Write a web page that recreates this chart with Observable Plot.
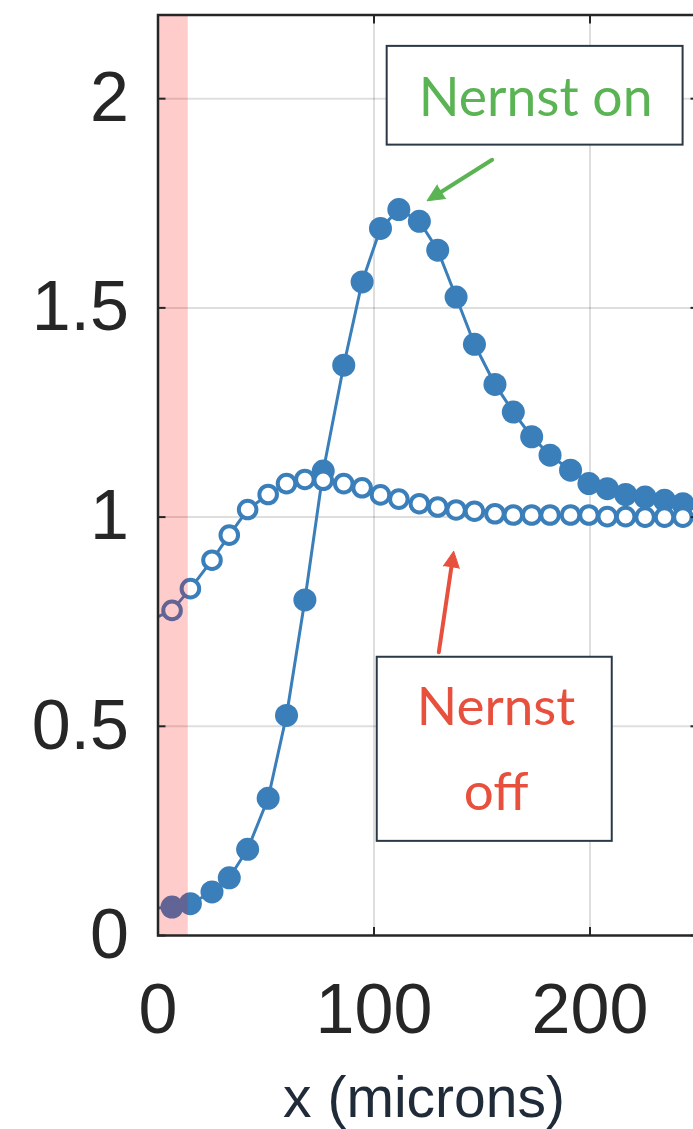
<!DOCTYPE html>
<html>
<head>
<meta charset="utf-8">
<script src="https://cdn.jsdelivr.net/npm/d3@7"></script>
<script src="https://cdn.jsdelivr.net/npm/@observablehq/plot@0.6"></script>
<style>
  html, body { margin: 0; padding: 0; background: #fff; overflow: hidden; }
  #chart svg { display: block; }
</style>
</head>
<body>
<div id="chart"></div>
<script>
// ---- data ----
const xMicrons  = [6.5, 15, 25, 33, 41.5, 51, 59.5, 68, 76.5, 86, 94.5, 103, 111.5, 121, 129.5, 138, 146.5, 156, 164.5, 173, 181.5, 191, 199.5, 208, 216.5, 225.5, 234.5, 243];
const nernstOn  = [0.068, 0.076, 0.104, 0.138, 0.206, 0.328, 0.526, 0.802, 1.11, 1.363, 1.562, 1.69, 1.735, 1.707, 1.638, 1.526, 1.413, 1.317, 1.251, 1.192, 1.148, 1.112, 1.080, 1.068, 1.054, 1.048, 1.040, 1.032];
const nernstOff = [0.777, 0.829, 0.897, 0.957, 1.018, 1.054, 1.080, 1.090, 1.088, 1.080, 1.070, 1.053, 1.043, 1.032, 1.024, 1.017, 1.014, 1.008, 1.005, 1.005, 1.005, 1.005, 1.005, 1.001, 1.001, 1.0, 1.0, 1.0];
const lineStart = { x: 0, on: 0.066, off: 0.762 };   // curves enter from the left axis
const bandMicrons = [0, 14];                          // shaded region
const xTicks = [0, 100, 200];
const yTicks = [0, 0.5, 1, 1.5, 2];
const xLabel = "x (microns)";
const labelOn = "Nernst on";
const labelOff = "Nernst\noff";

// ---- build tables ----
const rows = xMicrons.map((x, i) => ({x, on: nernstOn[i], off: nernstOff[i]}));
const lineRows = [lineStart, ...rows];

// ---- styling ----
const blue = "#3a7eba";
const green = "#5bb453";
const red = "#e8503e";
const boxStroke = "#2b3846";
const axisColor = "#262626";
const tickFont = "'Liberation Sans', Arial, Helvetica, sans-serif";
const noteFont = "Lato, 'Open Sans', sans-serif";

// annotation geometry (data units)
const boxOn  = {x1: 106.1, x2: 243.1, y1: 1.889, y2: 2.125};
const boxOff = {x1: 101.5, x2: 210.3, y1: 0.225, y2: 0.665};
const arrowOn  = {x1: 154.7, y1: 1.854, x2: 124.6, y2: 1.756, rotate: -122.2};
const arrowOff = {x1: 130.0, y1: 0.677, x2: 136.9, y2: 0.918, rotate: 8.4};

const chart = Plot.plot({
  width: 693,
  height: 1129,
  marginLeft: 157.5,
  marginRight: -4.5,
  marginTop: 14.5,
  marginBottom: 194,
  style: {fontFamily: tickFont, fontSize: "70px", color: axisColor, background: "#fff"},
  x: {domain: [0, 250]},
  y: {domain: [0, 2.2]},
  marks: [
    Plot.gridX(xTicks.filter(d => d > 0), {stroke: "#000", strokeOpacity: 0.13, strokeWidth: 2}),
    Plot.gridY(yTicks.filter(d => d > 0), {stroke: "#000", strokeOpacity: 0.13, strokeWidth: 2}),

    // Nernst on (filled)
    Plot.line(lineRows, {x: "x", y: "on", stroke: blue, strokeWidth: 3, clip: true}),
    Plot.dot(rows, {x: "x", y: "on", r: 11.5, fill: blue, stroke: "none"}),

    // Nernst off (open)
    Plot.line(lineRows, {x: "x", y: "off", stroke: blue, strokeWidth: 3, clip: true}),
    Plot.dot(rows, {x: "x", y: "off", r: 8.8, fill: "#fff", stroke: blue, strokeWidth: 4}),

    // shaded band on top
    Plot.rect([bandMicrons], {x1: d => d[0], x2: d => d[1], y1: 0, y2: 2.2, fill: "red", fillOpacity: 0.2}),

    // annotation boxes
    Plot.rect([boxOn], {x1: "x1", x2: "x2", y1: "y1", y2: "y2", fill: "#fff", stroke: boxStroke, strokeWidth: 2}),
    Plot.rect([boxOff], {x1: "x1", x2: "x2", y1: "y1", y2: "y2", fill: "#fff", stroke: boxStroke, strokeWidth: 2}),
    Plot.text([labelOn], {x: 174.8, y: 1.959, text: d => d, lineAnchor: "bottom", fontFamily: noteFont, fontSize: 53.5, fill: green}),
    Plot.text([labelOff], {x: 156.5, y: 0.301, text: d => d, lineAnchor: "bottom", lineHeight: 1.6, fontFamily: noteFont, fontSize: 53, fill: red}),

    // arrows
    Plot.arrow([arrowOn], {x1: "x1", y1: "y1", x2: "x2", y2: "y2", headLength: 0, insetEnd: 8, stroke: green, strokeWidth: 4}),
    Plot.vector([arrowOn], {x: "x2", y: "y2", rotate: arrowOn.rotate, length: 17, r: 8, anchor: "end", shape: "spike", fill: green, stroke: green, strokeWidth: 1}),
    Plot.arrow([arrowOff], {x1: "x1", y1: "y1", x2: "x2", y2: "y2", headLength: 0, insetEnd: 8, stroke: red, strokeWidth: 4}),
    Plot.vector([arrowOff], {x: "x2", y: "y2", rotate: arrowOff.rotate, length: 16, r: 8, anchor: "end", shape: "spike", fill: red, stroke: red, strokeWidth: 1}),

    // box frame & axes (MATLAB style, inward ticks)
    Plot.frame({stroke: axisColor, strokeWidth: 2.5}),
    Plot.axisY({anchor: "left", ticks: yTicks, tickSize: -8, tickPadding: 37, tickFormat: d => String(d), stroke: axisColor, strokeWidth: 2, fill: axisColor, fontSize: 70, label: null}),
    Plot.axisY({anchor: "right", ticks: yTicks, tickSize: -8, tickFormat: () => "", stroke: axisColor, strokeWidth: 2, label: null}),
    Plot.axisX({anchor: "bottom", ticks: xTicks, tickSize: -8, tickPadding: 56, tickFormat: d => String(d), stroke: axisColor, strokeWidth: 2, fill: axisColor, fontSize: 70, label: null}),
    Plot.axisX({anchor: "top", ticks: xTicks, tickSize: -8, tickFormat: () => "", stroke: axisColor, strokeWidth: 2, label: null}),

    // x-axis title
    Plot.text([xLabel], {frameAnchor: "bottom", dy: 181, dx: -4, text: d => d, lineAnchor: "bottom", fontFamily: tickFont, fontSize: 57, fill: "#1f2b38"})
  ]
});
document.getElementById("chart").append(chart);
</script>
</body>
</html>
